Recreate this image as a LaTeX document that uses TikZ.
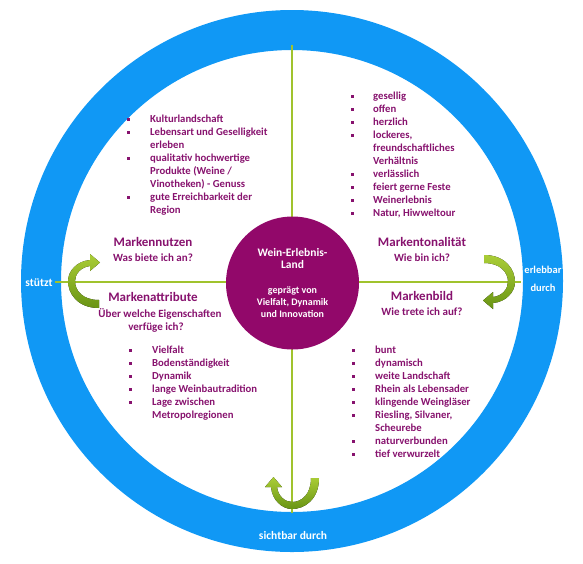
\documentclass[tikz,border=0pt]{standalone}
\usepackage{fontspec}
\setmainfont{Carlito}
\usepackage{array}
\definecolor{ringblue}{RGB}{16,152,245}
\definecolor{purp}{RGB}{146,8,106}
\definecolor{purptext}{RGB}{135,18,110}
\definecolor{linegreen}{RGB}{160,195,45}
\definecolor{arrlight}{RGB}{170,205,55}
\definecolor{arrdark}{RGB}{105,148,20}
\newcommand{\blt}{\rule[2pt]{3pt}{3pt}}
\begin{document}
\begin{tikzpicture}[x=1pt,y=-1pt,
  headtxt/.style={font=\fontsize{13}{15}\selectfont\bfseries, text=purptext, inner sep=0, anchor=base},
  subtxt/.style={font=\fontsize{11}{13}\selectfont\bfseries, text=purptext, inner sep=0, anchor=base},
  blist/.style={font=\fontsize{10.7}{13}\selectfont\bfseries, text=purptext, inner sep=0, anchor=base west},
  ringtxt/.style={font=\fontsize{11.5}{13}\selectfont\bfseries, text=white, inner sep=0, anchor=base},
  circtxt/.style={font=\fontsize{11.5}{12.5}\selectfont\bfseries, text=white, inner sep=0, anchor=base},
  circsub/.style={font=\fontsize{10}{12}\selectfont\bfseries, text=white, inner sep=0, anchor=base},
  axis/.style={draw=linegreen, line width=2pt},
  curvarr/.pic={\fill[top color=arrlight, bottom color=arrdark, draw=none]
    (0,-27) .. controls (22,-27) and (31,-12) .. (31,0)
    .. controls (31,10) and (22,20) .. (9,21) -- (9,27) -- (-1,18.5) -- (9,10) -- (9,15)
    .. controls (18,14) and (24,7) .. (24,0)
    .. controls (24,-10) and (16,-19) .. (0,-19) -- cycle;}
]
\useasboundingbox (0,0) rectangle (583,563);
% ring
\fill[ringblue, even odd rule] (292,281) circle (271pt) (292,281) circle (231pt);
% axes
\coordinate (ctop) at (292,45);
\coordinate (cbot) at (292,513);
\coordinate (cleft) at (55,282);
\coordinate (cright) at (521,282);
\draw[axis] (ctop) -- (cbot);
\draw[axis] (cleft) -- (cright);
% curved arrows
\pic at (484,282) {curvarr};
\pic[rotate=180] at (99,281) {curvarr};
\pic[rotate=-90] at (292,478) {curvarr};
% center circle
\fill[purp] (292.5,283) circle (66.5pt);
\node[circtxt] (t1) at (292.5,256) {Wein-Erlebnis-};
\node[circtxt] (t2) at (292.5,268.5) {Land};
\node[circsub] (t3) at (292.5,293.5) {geprägt von};
\node[circsub] (t4) at (292.5,305) {Vielfalt, Dynamik};
\node[circsub] (t5) at (292.5,317.5) {und Innovation};
% ring labels
\node[ringtxt] (stuetzt) at (39,286) {stützt};
\node[ringtxt, font=\fontsize{10.5}{12}\selectfont\bfseries] (erl1) at (543,273) {erlebbar};
\node[ringtxt, font=\fontsize{10.5}{12}\selectfont\bfseries] (erl2) at (543,291) {durch};
\node[ringtxt] (sicht) at (293,539) {sichtbar durch};
% headings
\node[headtxt] (h1) at (153,246.5) {Markennutzen};
\node[subtxt] (s1) at (153,261.5) {Was biete ich an?};
\node[headtxt] (h2) at (153,301.5) {Markenattribute};
\node[subtxt] (s2a) at (160,317.5) {Über welche Eigenschaften};
\node[subtxt] (s2b) at (156,330.5) {verfüge ich?};
\node[headtxt] (h3) at (422,246.5) {Markentonalität};
\node[subtxt] (s3) at (422,261.5) {Wie bin ich?};
\node[headtxt] (h4) at (422,300.5) {Markenbild};
\node[subtxt] (s4) at (422,315.5) {Wie trete ich auf?};
% lists
\node[blist] (l1) at (126.5,122.5) {\begin{tabular}[t]{@{}p{23.5pt}@{}l@{}}
\blt & Kulturlandschaft\\
\blt & Lebensart und Geselligkeit\\
 & erleben\\
\blt & qualitativ hochwertige\\
 & Produkte (Weine /\\
 & Vinotheken) - Genuss\\
\blt & gute Erreichbarkeit der\\
 & Region
\end{tabular}};
\node[blist] (l2) at (350.5,99.5) {\begin{tabular}[t]{@{}p{22.5pt}@{}l@{}}
\blt & gesellig\\
\blt & offen\\
\blt & herzlich\\
\blt & lockeres,\\
 & freundschaftliches\\
 & Verhältnis\\
\blt & verlässlich\\
\blt & feiert gerne Feste\\
\blt & Weinerlebnis\\
\blt & Natur, Hiwweltour
\end{tabular}};
\node[blist] (l3) at (128.5,353.5) {\begin{tabular}[t]{@{}p{23.5pt}@{}l@{}}
\blt & Vielfalt\\
\blt & Bodenständigkeit\\
\blt & Dynamik\\
\blt & lange Weinbautradition\\
\blt & Lage zwischen\\
 & Metropolregionen
\end{tabular}};
\node[blist] (l4) at (351.5,353.5) {\begin{tabular}[t]{@{}p{23.5pt}@{}l@{}}
\blt & bunt\\
\blt & dynamisch\\
\blt & weite Landschaft\\
\blt & Rhein als Lebensader\\
\blt & klingende Weingläser\\
\blt & Riesling, Silvaner,\\
 & Scheurebe\\
\blt & naturverbunden\\
\blt & tief verwurzelt
\end{tabular}};
\end{tikzpicture}
\end{document}
